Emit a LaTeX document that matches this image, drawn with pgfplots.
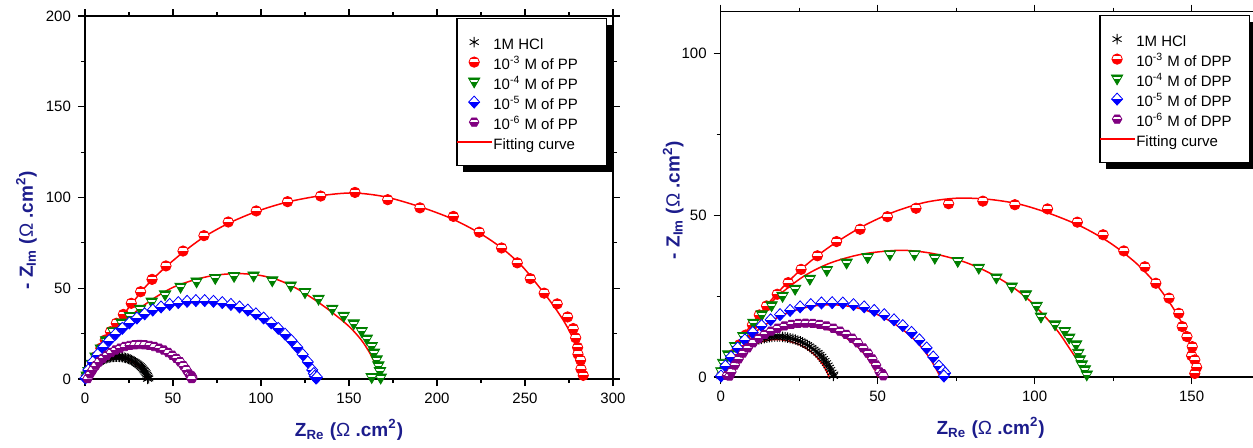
\documentclass[border=0pt]{standalone}
\usepackage{pgfplots}
\pgfplotsset{compat=1.18}
\usepackage{fontspec}
\setmainfont{Liberation Sans}
\usetikzlibrary{shadows}

\definecolor{labelblue}{RGB}{28,28,140}
\definecolor{dgreen}{RGB}{0,128,0}
\definecolor{dpurple}{RGB}{128,0,128}

% Half-filled marks: coloured body with a white band across the upper half
\def\ballpath{\pgfpathcircle{\pgfpointorigin}{\pgfplotmarksize}}
\pgfdeclareplotmark{halfball}{%
  \ballpath\pgfusepathqfill
  \begin{pgfscope}
    \ballpath\pgfusepathqclip
    \pgfsetfillcolor{white}%
    \pgfpathrectangle{\pgfpoint{-\pgfplotmarksize}{0pt}}{\pgfpoint{2\pgfplotmarksize}{0.55\pgfplotmarksize}}%
    \pgfusepathqfill
  \end{pgfscope}
  \ballpath\pgfusepathqstroke
}
\def\tripath{%
  \pgfpathmoveto{\pgfpoint{0pt}{-1.1\pgfplotmarksize}}%
  \pgfpathlineto{\pgfpoint{1.1\pgfplotmarksize}{0.8\pgfplotmarksize}}%
  \pgfpathlineto{\pgfpoint{-1.1\pgfplotmarksize}{0.8\pgfplotmarksize}}%
  \pgfpathclose}
\pgfdeclareplotmark{halftri}{%
  \tripath\pgfusepathqfill
  \begin{pgfscope}
    \tripath\pgfusepathqclip
    \pgfsetfillcolor{white}%
    \pgfpathrectangle{\pgfpoint{-1.2\pgfplotmarksize}{0.05\pgfplotmarksize}}{\pgfpoint{2.4\pgfplotmarksize}{0.4\pgfplotmarksize}}%
    \pgfusepathqfill
  \end{pgfscope}
  \tripath\pgfusepathqstroke
}
\def\diapath{%
  \pgfpathmoveto{\pgfpoint{0pt}{1.2\pgfplotmarksize}}%
  \pgfpathlineto{\pgfpoint{1.1\pgfplotmarksize}{0pt}}%
  \pgfpathlineto{\pgfpoint{0pt}{-1.2\pgfplotmarksize}}%
  \pgfpathlineto{\pgfpoint{-1.1\pgfplotmarksize}{0pt}}%
  \pgfpathclose}
\pgfdeclareplotmark{halfdia}{%
  \diapath\pgfusepathqfill
  \begin{pgfscope}
    \diapath\pgfusepathqclip
    \pgfsetfillcolor{white}%
    \pgfpathrectangle{\pgfpoint{-1.2\pgfplotmarksize}{0pt}}{\pgfpoint{2.4\pgfplotmarksize}{1.3\pgfplotmarksize}}%
    \pgfusepathqfill
  \end{pgfscope}
  \diapath\pgfusepathqstroke
}
\def\hexpath{%
  \pgfpathmoveto{\pgfpoint{\pgfplotmarksize}{0pt}}%
  \pgfpathlineto{\pgfpoint{0.5\pgfplotmarksize}{0.866\pgfplotmarksize}}%
  \pgfpathlineto{\pgfpoint{-0.5\pgfplotmarksize}{0.866\pgfplotmarksize}}%
  \pgfpathlineto{\pgfpoint{-\pgfplotmarksize}{0pt}}%
  \pgfpathlineto{\pgfpoint{-0.5\pgfplotmarksize}{-0.866\pgfplotmarksize}}%
  \pgfpathlineto{\pgfpoint{0.5\pgfplotmarksize}{-0.866\pgfplotmarksize}}%
  \pgfpathclose}
\pgfdeclareplotmark{halfhex}{%
  \hexpath\pgfusepathqfill
  \begin{pgfscope}
    \hexpath\pgfusepathqclip
    \pgfsetfillcolor{white}%
    \pgfpathrectangle{\pgfpoint{-1.1\pgfplotmarksize}{0pt}}{\pgfpoint{2.2\pgfplotmarksize}{0.5\pgfplotmarksize}}%
    \pgfusepathqfill
  \end{pgfscope}
  \hexpath\pgfusepathqstroke
}

\pgfplotsset{
  eisaxis/.style={
    scale only axis,
    axis line style={line width=0.7pt},
    tick style={line width=0.6pt, black},
    tick align=outside,
    major tick length=3.5pt,
    minor tick length=2pt,
    minor x tick num=1, minor y tick num=1,
    ymin=0, xmin=0,
    tick label style={font=\fontsize{7.5}{9}\selectfont},
    /pgf/number format/assume math mode=true,
    label style={font=\fontsize{9.5}{11}\selectfont\bfseries, text=labelblue},
    xlabel style={at={(rel axis cs:0.5,0)}, anchor=base, yshift=-28.75pt},
    legend cell align=left,
    legend style={font=\fontsize{7.5}{9}\selectfont, anchor=north east,
      draw=black, line width=0.6pt, fill=white,
      drop shadow={shadow xshift=3pt, shadow yshift=-3pt, fill=black, opacity=1},
      inner xsep=0pt, inner ysep=7pt, row sep=0.5pt,
      nodes={inner xsep=0.5pt, inner ysep=1pt, text height=7.5pt, text depth=0pt}},
  },
  hcl/.style={only marks, mark=asterisk, mark size=2.6pt, mark options={black, line width=0.45pt}},
  c3/.style={only marks, mark=halfball, mark size=2.6pt, mark options={draw=red, fill=red, line width=0.4pt}},
  c4/.style={only marks, mark=halftri, mark size=2.6pt, mark options={draw=dgreen, fill=dgreen, line width=0.4pt}},
  c5/.style={only marks, mark=halfdia, mark size=2.5pt, mark options={draw=blue, fill=blue, line width=0.4pt}},
  c6/.style={only marks, mark=halfhex, mark size=2.4pt, mark options={draw=dpurple, fill=dpurple, line width=0.4pt}},
  fitline/.style={red, line width=0.75pt, smooth, no markers,
    legend image code/.code={%
      \pgfsetstrokecolor{red}\pgfsetlinewidth{0.75pt}%
      \pgfpathmoveto{\pgfpointorigin}%
      \pgfpathlineto{\pgfpoint{0.62cm}{0pt}}%
      \pgfusepathqstroke}},
}

\begin{document}
\begin{tikzpicture}
\useasboundingbox (0,0) rectangle (626.5pt,223.5pt);
\clip (0,0) rectangle (626.5pt,223.5pt);

% ---------------- PP ----------------
\begin{axis}[eisaxis,
  at={(42.5pt,34pt)}, anchor=south west,
  width=264pt, height=181.5pt,
  xmax=300, ymax=200,
  xtick={0,50,...,300}, ytick={0,50,...,200},
  xlabel={Z\textsubscript{Re} ({\mdseries Ω} .cm\textsuperscript{2})},
  ylabel={- Z\textsubscript{Im} ({\mdseries Ω} .cm\textsuperscript{2})},
  ylabel style={at={([xshift=-26pt]rel axis cs:0,0.41)}, anchor=base},
  legend style={at={(rel axis cs:0.9886,0.9945)}},
]
\addplot[hcl] coordinates {(0.1,0.9)(0.5,1.7)(0.9,2.4)(1.3,3.2)(1.8,3.9)(2.3,4.6)(2.8,5.2)(3.4,5.9)(4.0,6.5)(4.6,7.1)(5.3,7.7)(6.0,8.2)(6.6,8.7)(7.3,9.2)(8.1,9.6)(8.8,10.0)(9.6,10.4)(10.4,10.8)(11.2,11.1)(12.0,11.4)(12.9,11.6)(13.7,11.8)(14.6,12.0)(15.4,12.1)(16.3,12.2)(17.1,12.3)(18.0,12.3)(18.9,12.3)(19.7,12.2)(20.6,12.1)(21.4,12.0)(22.3,11.8)(23.1,11.6)(24.0,11.4)(24.8,11.1)(25.6,10.8)(26.4,10.4)(27.2,10.0)(27.9,9.6)(28.7,9.2)(29.4,8.7)(30.0,8.2)(30.7,7.7)(31.4,7.1)(32.0,6.5)(32.6,5.9)(33.2,5.2)(33.7,4.6)(34.2,3.9)(34.7,3.2)(35.1,2.4)(35.5,1.7)(35.9,0.9)(36.2,0.3)(35.5,0.1)};
\addlegendentry{1M HCl}
\addplot[c3] coordinates {(1.0,1.5)(2.5,4.5)(4.5,8.5)(6.5,12.5)(9,17)(11.5,21.5)(14.5,26.1)(17.8,30.7)(21.8,35.6)(26.3,41.7)(31.6,48.1)(38.1,54.9)(46,62.3)(55.7,70.5)(67.6,79)(81.4,86.5)(97.3,92.6)(115.1,97.7)(133.9,100.8)(153.4,102.8)(172,98.8)(190.3,94.3)(209.3,89.6)(224,80.9)(236.7,72.2)(245.6,64)(253,55.3)(260.9,47.3)(268.3,41.4)(274.2,34.2)(277.4,27.8)(278.8,22.7)(279.9,17.4)(280.1,13.7)(281.6,10.4)(281.8,5.5)(283.1,2)};
\addlegendentry{10\textsuperscript{-3} M of PP}
\addplot[c4] coordinates {(1,1.5)(2,4)(4,8)(6,12)(9,16.5)(12,21)(16,26)(20.8,30.7)(25.6,34.3)(31.3,38.4)(37.9,42.3)(45.5,46.3)(54.3,50.5)(63.4,53.4)(74,55.3)(84.7,56.4)(95.8,56.7)(106.4,54)(116.9,51.2)(125,47.5)(132.7,43.9)(140.5,38.4)(147,34.5)(152.7,30.3)(157.2,26.1)(160.1,21.9)(162.9,17.8)(164.2,14.2)(165.7,10.5)(166.7,7.2)(167.6,4)(168,0.4)(162.9,0.7)};
\addlegendentry{10\textsuperscript{-4} M of PP}
\addplot[c5] coordinates {(0.2,0.5)(1.9,5.0)(4.4,9.4)(7.2,13.5)(10.3,17.5)(13.7,21.2)(17.3,24.7)(21.2,27.9)(25.2,30.9)(29.5,33.6)(33.9,35.9)(38.5,38.0)(43.2,39.7)(48.1,41.1)(53.0,42.1)(58.0,42.8)(63.0,43.2)(68.0,43.2)(73.0,42.8)(78.0,42.1)(82.9,41.1)(87.8,39.7)(92.5,38.0)(97.1,35.9)(101.5,33.6)(105.8,30.9)(109.8,27.9)(113.7,24.7)(117.3,21.2)(120.6,17.5)(123.7,13.5)(126.6,9.4)(129.1,5.0)(130,3)(130.5,1.5)(131.3,0.5)(131.8,1.0)};
\addlegendentry{10\textsuperscript{-5} M of PP}
\addplot[c6] coordinates {(1.5,0.2)(2.9,2.8)(4.4,5.1)(6.1,7.4)(8.0,9.5)(10.1,11.4)(12.4,13.1)(14.8,14.6)(17.3,16.0)(19.9,17.0)(22.6,17.9)(25.4,18.5)(28.2,18.9)(31.0,19.0)(33.8,18.9)(36.6,18.5)(39.4,17.9)(42.1,17.0)(44.7,16.0)(47.3,14.6)(49.6,13.1)(51.9,11.4)(54.0,9.5)(55.9,7.4)(57.6,5.1)(59.1,2.8)(60.0,2.0)(60.8,1.5)(61.0,0.5)(60.5,0.2)};
\addlegendentry{10\textsuperscript{-6} M of PP}
% fitted equivalent-circuit curves
\addplot[fitline] coordinates {(1,0)(3,5)(6,11)(10,18.5)(15,26.5)(20,33)(27,42)(35,51.5)(45,61)(56,70)(68,78.5)(82,86)(98,92.5)(115,97.5)(134,101)(152,102.5)(170,100.5)(190,95)(208,88.5)(224,80.5)(237,72)(248,62.5)(257,52)(265,42)(272,32)(277,23)(280.5,14)(282.5,6)(283.3,0)};
\addlegendentry{\makebox[56pt][l]{Fitting curve}}
\addplot[fitline, forget plot] coordinates {(3.0,0)(4.4,3.06)(7.1,6.56)(10.6,9.24)(14.6,10.92)(19,11.5)(23.4,10.92)(27.4,9.24)(30.9,6.56)(33.6,3.06)(35,0)};
\addplot[fitline, forget plot] coordinates {(1,0)(5,9)(10,16)(20,29)(30,38)(40,45)(50,50.5)(60,54)(70,56.5)(80,57.8)(90,58)(100,57)(110,54.5)(120,50)(130,44)(140,37)(150,29)(157,21.5)(162,14)(165.5,7)(167,2)(167.3,0)};
\addplot[fitline, forget plot] coordinates {(0.1,0)(2.2,4.6)(7.5,13.0)(13.9,20.6)(21.2,27.2)(29.4,32.8)(38.4,37.1)(47.8,40.2)(57.6,41.9)(67.5,42.3)(77.3,41.2)(87.0,38.8)(96.2,35.1)(104.8,30.1)(112.6,24.0)(119.5,16.9)(125.3,8.9)(129.9,0)};
\addplot[fitline, forget plot] coordinates {(1.99,0)(4.76,4.77)(8.31,8.99)(12.55,12.56)(17.34,15.33)(22.54,17.22)(27.98,18.18)(33.52,18.18)(38.96,17.22)(44.16,15.33)(48.95,12.56)(53.2,8.99)(56.7,4.8)(59.5,0)};
\end{axis}

% ---------------- DPP ----------------
\begin{axis}[eisaxis,
  at={(360.35pt,35pt)}, anchor=south west,
  width=270pt, height=182.65pt,
  xmax=172, ymax=113,
  xtick={0,50,100,150}, ytick={0,50,100},
  xlabel={Z\textsubscript{Re} ({\mdseries Ω} .cm\textsuperscript{2})},
  ylabel={- Z\textsubscript{Im} ({\mdseries Ω} .cm\textsuperscript{2})},
  ylabel style={at={([xshift=-20.5pt]rel axis cs:0,0.4845)}, anchor=base},
  legend style={at={(rel axis cs:0.98,0.991)}},
]
\addplot[hcl] coordinates {(0.1,0.2)(0.3,0.8)(0.6,1.4)(1.0,2.2)(1.4,2.9)(1.8,3.6)(2.3,4.3)(2.8,5.0)(3.3,5.6)(3.8,6.3)(4.4,6.9)(5.0,7.5)(5.7,8.0)(6.3,8.5)(7.0,9.0)(7.7,9.5)(8.4,9.9)(9.1,10.3)(9.9,10.7)(10.6,11.0)(11.4,11.3)(12.2,11.6)(13.0,11.8)(13.9,12.0)(14.7,12.2)(15.5,12.3)(16.3,12.4)(17.2,12.5)(18.0,12.5)(18.8,12.5)(19.7,12.4)(20.5,12.3)(21.3,12.2)(22.1,12.0)(23.0,11.8)(23.8,11.6)(24.6,11.3)(25.4,11.0)(26.1,10.7)(26.9,10.3)(27.6,9.9)(28.3,9.5)(29.0,9.0)(29.7,8.5)(30.3,8.0)(31.0,7.5)(31.6,6.9)(32.2,6.3)(32.7,5.6)(33.2,5.0)(33.7,4.3)(34.2,3.6)(34.6,2.9)(35.0,2.2)(35.4,1.4)(36.0,0.8)(35.9,0.3)};
\addlegendentry{1M HCl}
\addplot[c3] coordinates {(1,1.5)(2.5,4)(4,7)(6,10)(8,13)(10.1,16.1)(12.3,19.2)(14.6,22.0)(18,25.6)(21.5,29.2)(25.6,33.3)(30.8,37.5)(36.9,41.9)(44.4,45.7)(53.1,49.6)(62.2,52.2)(72.6,53.6)(83.5,54.4)(93.7,53.3)(104.1,52)(113.6,47.9)(121.8,44)(128.4,39)(135.1,34.1)(138.6,29)(142.8,24.4)(145.9,19.7)(147,15.6)(148.5,12.5)(150.2,9.4)(150,6.6)(151,5.3)(151.6,3)(151,1.1)};
\addlegendentry{10\textsuperscript{-3} M of DPP}
\addplot[c4] coordinates {(0.2,1.6)(0.8,4.2)(2.4,6.8)(4.6,9.4)(7.2,12.5)(10.4,16.6)(13.1,19.2)(16.2,22)(19.7,24.9)(23.7,27.1)(28.4,30.2)(33.8,32.9)(40.1,35.2)(46.8,36.9)(53.9,37.8)(61.7,37.8)(68.2,36.7)(75.5,35.7)(82.2,33.6)(87.8,30.6)(92.7,27.8)(97.2,25.4)(100.6,21.8)(102,18.5)(106.5,16.1)(109.6,14)(111,12)(113.2,9.9)(113.9,7.3)(114.4,5.3)(115,3.7)(116,2.2)(116.6,0.6)};
\addlegendentry{10\textsuperscript{-4} M of DPP}
\addplot[c5] coordinates {(0.1,0.3)(1.5,3.4)(3.3,6.2)(5.4,9.0)(7.7,11.5)(10.2,13.8)(13.0,15.9)(15.9,17.7)(18.9,19.3)(22.1,20.6)(25.3,21.7)(28.7,22.4)(32.1,22.9)(35.5,23.0)(38.9,22.9)(42.3,22.4)(45.7,21.7)(48.9,20.6)(52.1,19.3)(55.2,17.7)(58.0,15.9)(60.8,13.8)(63.3,11.5)(65.6,9.0)(67.7,6.2)(69.5,3.4)(70.8,2.0)(71.5,1.2)(71.1,0.3)};
\addlegendentry{10\textsuperscript{-5} M of DPP}
\addplot[c6] coordinates {(2.0,0.5)(2.8,0.3)(3.4,1.6)(4.5,3.7)(5.7,5.6)(7.1,7.4)(8.6,9.0)(10.3,10.6)(12.1,12.0)(14.0,13.2)(16.0,14.2)(18.1,15.1)(20.3,15.8)(22.5,16.3)(24.7,16.6)(27.0,16.65)(29.3,16.6)(31.5,16.3)(33.7,15.8)(35.9,15.1)(38.0,14.2)(40.0,13.2)(41.9,12.0)(43.7,10.6)(45.4,9.0)(46.9,7.4)(48.3,5.6)(49.5,3.7)(50.6,1.6)(51.5,1.0)(51.8,0.4)};
\addlegendentry{10\textsuperscript{-6} M of DPP}
% fitted equivalent-circuit curves
\addplot[fitline] coordinates {(1,0)(3,4)(6,9)(10,15.5)(15,22.5)(20,28)(27,34.5)(35,40.5)(45,46.5)(55,51)(65,54)(75,55.3)(85,55)(95,53.5)(105,50.5)(115,46.5)(124,41.5)(132,35.5)(138,29.5)(143,23)(147,16.5)(149.5,10)(151,4)(151.5,0)};
\addlegendentry{\makebox[56pt][l]{Fitting curve}}
\addplot[fitline, forget plot] coordinates {(1.0,0)(3.1,3.9)(6.3,7.4)(10.2,9.9)(14.7,11.3)(17.8,11.6)(20.9,11.3)(25.4,9.9)(29.3,7.4)(32.5,3.9)(34.6,0)};
\addplot[fitline, forget plot] coordinates {(0.5,0)(2,4)(5,9.5)(10,16.5)(15,22)(20,26.5)(27,31.5)(35,35.3)(45,38)(57,39.2)(67,38.3)(77,35.8)(85,32.5)(92,28.5)(98,24)(103,19)(107.5,14)(111,9)(114,4.5)(116,0)};
\addplot[fitline, forget plot] coordinates {(0,0)(3.4,5.8)(7.7,11.0)(12.9,15.3)(18.7,18.7)(25.0,21.0)(31.6,22.2)(38.4,22.2)(45.0,21.0)(51.3,18.7)(57.1,15.3)(62.3,11.0)(66.6,5.8)(70,0)};
\addplot[fitline, forget plot] coordinates {(3.5,0)(5.1,3.2)(7.6,6.8)(10.7,9.9)(14.3,12.4)(18.25,14.3)(22.5,15.4)(26.85,15.8)(31.2,15.4)(35.45,14.3)(39.4,12.4)(43.0,9.9)(46.1,6.8)(48.6,3.2)(50.2,0)};
\end{axis}
\end{tikzpicture}
\end{document}
